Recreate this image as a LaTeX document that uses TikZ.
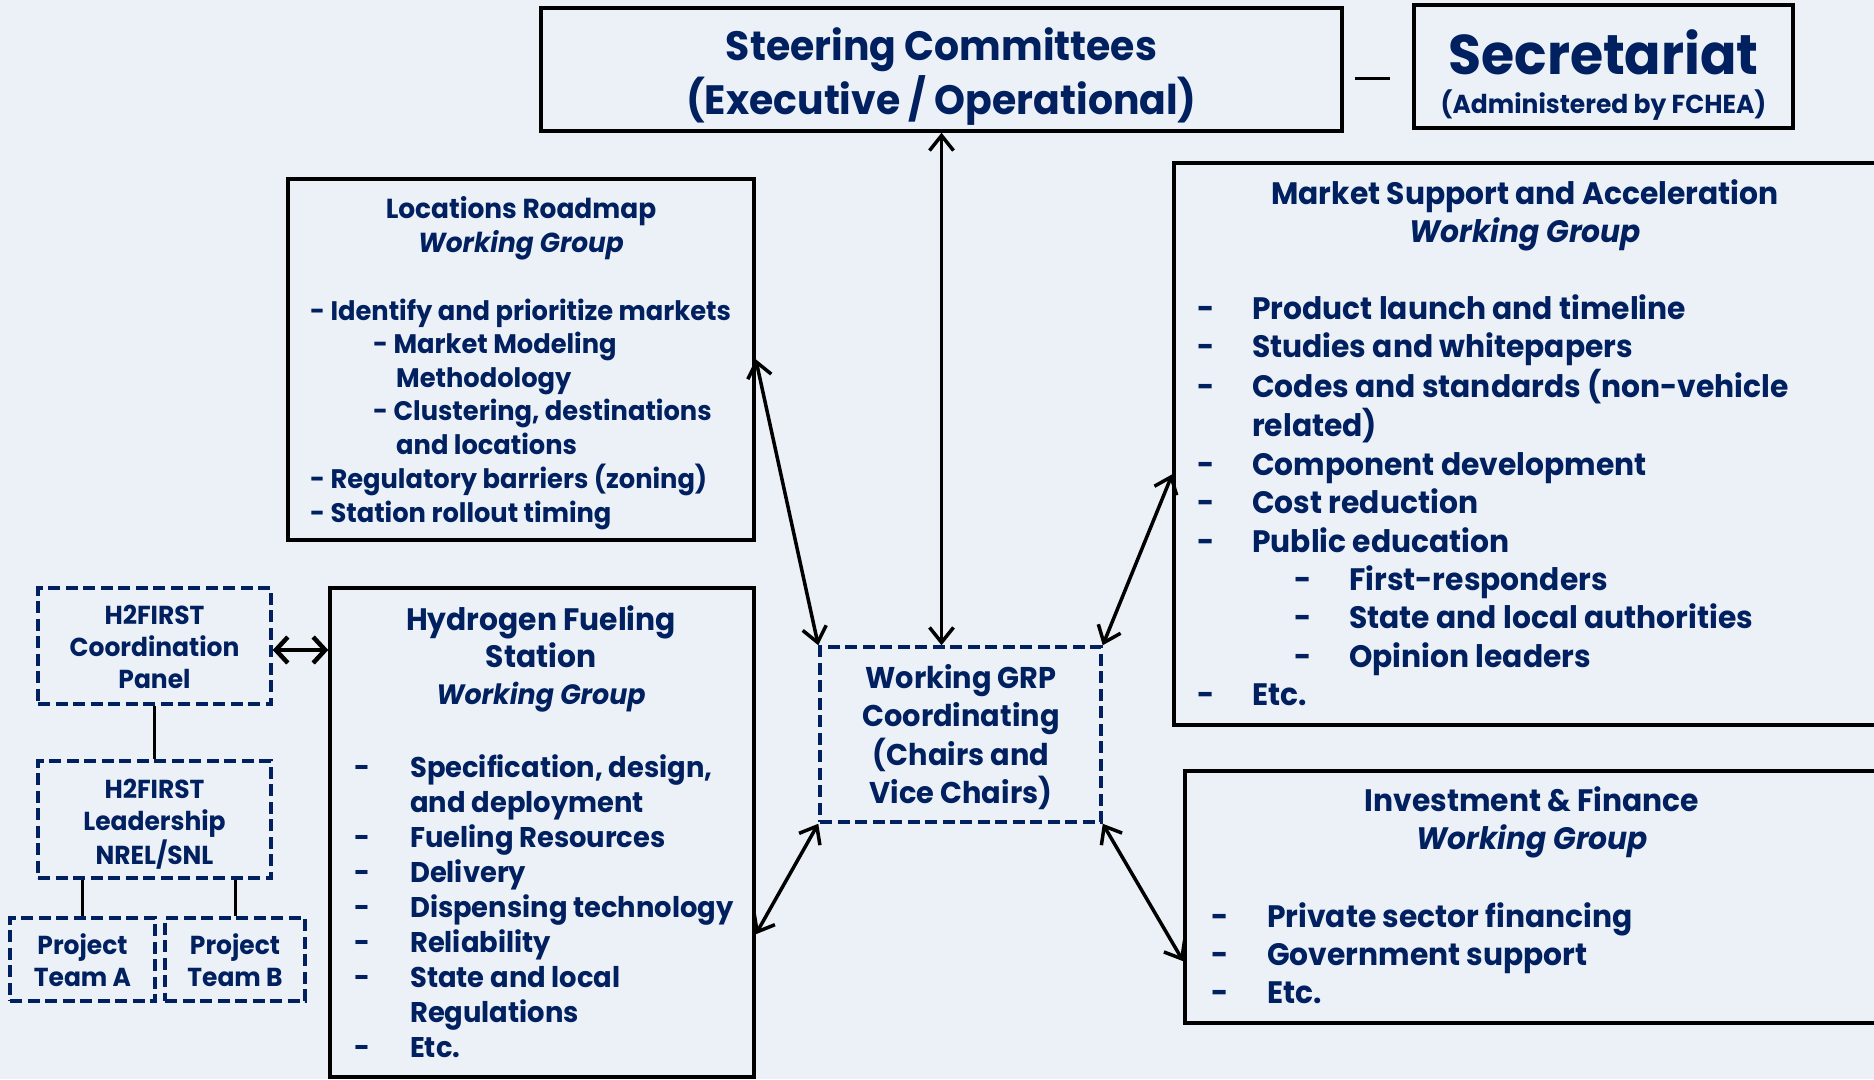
\documentclass[tikz,border=0pt]{standalone}
\usepackage{fontspec}
\setmainfont{Poppins}[FakeStretch=0.96]
\usetikzlibrary{arrows.meta,calc}
\definecolor{tnavy}{HTML}{002060}
\definecolor{bgc}{HTML}{ECF1F8}
\newcommand\fsz[2]{\fontsize{#1}{#2}\selectfont}
\begin{document}
\begin{tikzpicture}[x=1pt,y=-1pt,
  sbox/.style={draw=black,line width=3.5pt,rectangle,inner sep=0pt},
  dbox/.style={draw=tnavy,line width=3.5pt,dash pattern=on 12pt off 5.5pt,rectangle,inner sep=0pt},
  txt/.style={text=tnavy,inner sep=0pt,anchor=base,font=\bfseries},
  ltxt/.style={txt,anchor=base west},
  biarrow/.style={line width=3.5pt,draw=black,arrows={Straight Barb[length=15pt,width=24pt]-Straight Barb[length=15pt,width=24pt]}},
  link/.style={line width=3pt,draw=black}
]
\useasboundingbox (0,0) rectangle (1874,1079);
\fill[bgc] (0,0) rectangle (1874,1079);
\clip (0,0) rectangle (1874,1079);

% boxes
\node[sbox,minimum width=801pt,minimum height=123pt] (steer) at (941.5,69.5) {};
\node[sbox,minimum width=379pt,minimum height=123pt] (sec) at (1603.5,66.5) {};
\node[sbox,minimum width=466pt,minimum height=361pt] (loc) at (521,359.5) {};
\node[sbox,minimum width=424pt,minimum height=489pt] (hyd) at (542,832.5) {};
\node[sbox,minimum width=716pt,minimum height=562pt] (mkt) at (1532,444) {};
\node[sbox,minimum width=705pt,minimum height=252pt] (inv) at (1537.5,897) {};
\node[dbox,minimum width=281pt,minimum height=175pt] (wg) at (960.5,734.5) {};
\node[dbox,minimum width=233pt,minimum height=116pt] (coord) at (154.5,646) {};
\node[dbox,minimum width=233pt,minimum height=117pt] (lead) at (154.5,819.5) {};
\node[dbox,minimum width=145pt,minimum height=83pt] (teamA) at (82.5,959.5) {};
\node[dbox,minimum width=140pt,minimum height=83pt] (teamB) at (235,959.5) {};

% texts
\node[txt] (steerT) at (941.5,60.5) {\fsz{41}{51}\begin{tabular}[t]{@{}c@{}}Steering Committees\\(Executive / Operational)\end{tabular}};
\node[txt] (secT) at (1603.5,74) {\fsz{56}{60}Secretariat};
\node[txt] (secS) at (1603.5,113) {\fsz{26}{30}(Administered by FCHEA)};

\node[txt] (locT) at (521,218) {\fsz{27.5}{34}\begin{tabular}[t]{@{}c@{}}Locations Roadmap\\{\itshape Working Group}\end{tabular}};
\node[ltxt] (locL) at (310,320) {\fsz{26.8}{33.5}\begin{tabular}[t]{@{}l@{}}
- Identify and prioritize markets\\
\hspace*{63pt}- Market Modeling\\
\hspace*{86pt}Methodology\\
\hspace*{63pt}- Clustering, destinations\\
\hspace*{86pt}and locations\\
- Regulatory barriers (zoning)\\
- Station rollout timing
\end{tabular}};

\node[txt] (hydT) at (541,630.5) {\fsz{31}{37}\begin{tabular}[t]{@{}c@{}}Hydrogen Fueling\\Station\\{\fsz{28}{37}\itshape Working Group}\end{tabular}};
\node[ltxt] (hydL) at (354,777) {\fsz{28.5}{35.1}\begin{tabular}[t]{@{}l@{}}
\makebox[56pt][l]{-}Specification, design,\\
\hspace*{56pt}and deployment\\
\makebox[56pt][l]{-}Fueling Resources\\
\makebox[56pt][l]{-}Delivery\\
\makebox[56pt][l]{-}Dispensing technology\\
\makebox[56pt][l]{-}Reliability\\
\makebox[56pt][l]{-}State and local\\
\hspace*{56pt}Regulations\\
\makebox[56pt][l]{-}Etc.
\end{tabular}};

\node[txt] (mktT) at (1525,204) {\fsz{31}{38}\begin{tabular}[t]{@{}c@{}}Market Support and Acceleration\\{\itshape Working Group}\end{tabular}};
\node[ltxt] (mktL) at (1197,319) {\fsz{31}{38.36}\begin{tabular}[t]{@{}l@{}}
\makebox[55pt][l]{-}Product launch and timeline\\
\makebox[55pt][l]{-}Studies and whitepapers\\
\makebox[55pt][l]{-}Codes and standards (non-vehicle\\
\hspace*{55pt}related)\\
\makebox[55pt][l]{-}Component development\\
\makebox[55pt][l]{-}Cost reduction\\
\makebox[55pt][l]{-}Public education\\
\hspace*{97pt}\makebox[55pt][l]{-}First-responders\\
\hspace*{97pt}\makebox[55pt][l]{-}State and local authorities\\
\hspace*{97pt}\makebox[55pt][l]{-}Opinion leaders\\
\makebox[55pt][l]{-}Etc.
\end{tabular}};

\node[txt] (invT) at (1532,811) {\fsz{31}{38}\begin{tabular}[t]{@{}c@{}}Investment \& Finance\\{\itshape Working Group}\end{tabular}};
\node[ltxt] (invL) at (1211,927) {\fsz{31}{38.2}\begin{tabular}[t]{@{}l@{}}
\makebox[56pt][l]{-}Private sector financing\\
\makebox[56pt][l]{-}Government support\\
\makebox[56pt][l]{-}Etc.
\end{tabular}};

\node[txt] (wgT) at (961,688) {\fsz{30}{38.2}\begin{tabular}[t]{@{}c@{}}Working GRP\\Coordinating\\(Chairs and\\Vice Chairs)\end{tabular}};
\node[txt] (coordT) at (154.5,624.5) {\fsz{26}{32}\begin{tabular}[t]{@{}c@{}}H2FIRST\\Coordination\\Panel\end{tabular}};
\node[txt] (leadT) at (154.5,798.5) {\fsz{26}{32}\begin{tabular}[t]{@{}c@{}}H2FIRST\\Leadership\\NREL/SNL\end{tabular}};
\node[txt] (teamAT) at (82.5,954.5) {\fsz{26}{32}\begin{tabular}[t]{@{}c@{}}Project\\Team A\end{tabular}};
\node[txt] (teamBT) at (235,954.5) {\fsz{26}{32}\begin{tabular}[t]{@{}c@{}}Project\\Team B\end{tabular}};

% connectors
\coordinate (s1) at ([xshift=11pt,yshift=-8.5pt]steer.east);
\coordinate (s2) at ([xshift=-22pt]s1 -| sec.west);
\draw[link] (s1) -- (s2);
\draw[biarrow] (steer.south) -- (steer.south |- wg.north);
\draw[biarrow] ([yshift=-182pt]loc.north east) -- (wg.north west);
\draw[biarrow] ([yshift=-313pt]mkt.north west) -- (wg.north east);
\draw[biarrow] ([yshift=-348pt]hyd.north east) -- (wg.south west);
\draw[biarrow] (wg.south east) -- ([yshift=-192pt]inv.north west);
\draw[line width=4.5pt,arrows={Straight Barb[length=12pt,width=26pt]-Straight Barb[length=12pt,width=26pt]}] ([yshift=-4pt]coord.east) -- ([yshift=-4pt]coord.east -| hyd.west);
\draw[link] (coord.south) -- (lead.north);
\draw[link] (lead.south -| teamA.north) -- (teamA.north);
\draw[link] (lead.south -| teamB.north) -- (teamB.north);
\end{tikzpicture}
\end{document}
